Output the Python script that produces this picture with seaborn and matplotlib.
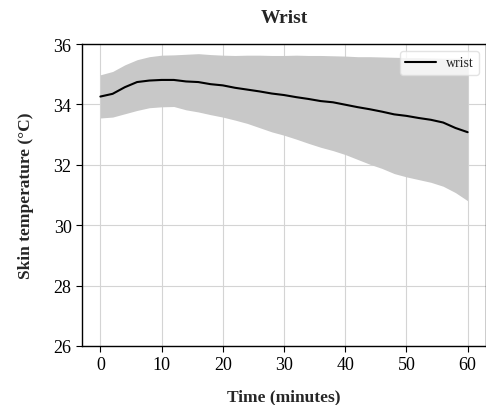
import numpy as np
import seaborn as sns
import matplotlib
matplotlib.use("Agg")
from matplotlib import pyplot as plt

# Time in minutes and wrist skin temperature (mean and band limits)
time_min = [0, 2, 4, 6, 8, 10, 12, 14, 16, 18, 20, 22, 24, 26, 28, 30,
            32, 34, 36, 38, 40, 42, 44, 46, 48, 50, 52, 54, 56, 58, 60]
wrist_mean = [34.26, 34.35, 34.57, 34.74, 34.79, 34.81, 34.81, 34.76, 34.74, 34.67,
              34.63, 34.55, 34.49, 34.43, 34.36, 34.31, 34.24, 34.18, 34.11, 34.07,
              33.99, 33.91, 33.84, 33.76, 33.67, 33.62, 33.55, 33.49, 33.40, 33.22, 33.08]
wrist_upper = [34.98, 35.09, 35.31, 35.48, 35.58, 35.63, 35.64, 35.66, 35.68, 35.65,
               35.63, 35.62, 35.63, 35.63, 35.62, 35.62, 35.63, 35.62, 35.62, 35.61,
               35.60, 35.58, 35.58, 35.57, 35.56, 35.55, 35.55, 35.54, 35.53, 35.53, 35.53]
wrist_lower = [33.55, 33.58, 33.69, 33.80, 33.89, 33.92, 33.93, 33.82, 33.75, 33.66,
               33.58, 33.48, 33.37, 33.23, 33.09, 32.98, 32.85, 32.71, 32.58, 32.47,
               32.34, 32.18, 32.02, 31.88, 31.71, 31.60, 31.51, 31.42, 31.29, 31.08, 30.81]

sns.set_style("whitegrid", {"axes.edgecolor": "black", "grid.color": "#d4d4d4",
                            "xtick.bottom": True, "ytick.left": True})
plt.rcParams['font.family'] = ['Liberation Serif', 'DejaVu Serif']

fig = plt.figure(figsize=(4.86, 4.06), dpi=100)
ax = fig.add_axes([82 / 486, 1 - 347 / 406, 1 - 82 / 486, (347 - 45) / 406])

ax.fill_between(time_min, wrist_lower, wrist_upper, color='#c8c8c8', linewidth=0)
sns.lineplot(x=time_min, y=wrist_mean, color='black', linewidth=1.5, label='wrist', ax=ax)

ax.set_ylim(26, 36)
ax.set_xlim(-3, 63)
ax.set_xticks(range(0, 61, 10))
ax.set_yticks(range(26, 37, 2))
ax.tick_params(labelsize=13, length=4, width=0.8, colors='black')
for side in ['left', 'bottom', 'top', 'right']:
    ax.spines[side].set_linewidth(1.0)

ax.set_title('Wrist', fontsize=14, fontweight='bold', pad=16)
ax.set_xlabel('Time (minutes)', fontsize=12.5, fontweight='bold', labelpad=11)
ax.set_ylabel('Skin temperature (°C)', fontsize=12.5, fontweight='bold', labelpad=14)

leg = ax.legend(loc='upper right', fontsize=10, frameon=True, handlelength=2.2,
                handletextpad=0.7, borderaxespad=0.5, fancybox=True)
leg.get_frame().set_edgecolor('#dddddd')

plt.savefig('out.png', dpi=100)
